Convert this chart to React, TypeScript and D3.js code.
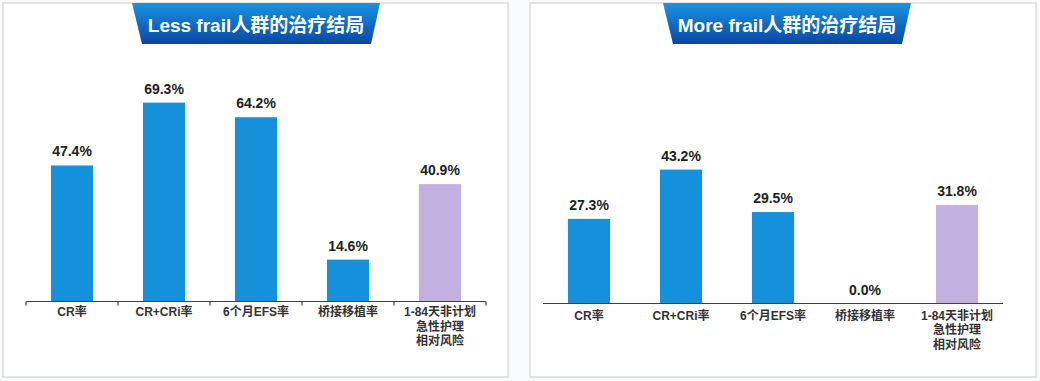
import React from "react";
import * as d3 from "d3";

const categories = ["CR率", "CR+CRi率", "6个月EFS率", "桥接移植率", "1-84天非计划\n急性护理\n相对风险"];
const lessFrailValues = [47.4, 69.3, 64.2, 14.6, 40.9];
const moreFrailValues = [27.3, 43.2, 29.5, 0.0, 31.8];
const barColors = ["#1591dc", "#1591dc", "#1591dc", "#1591dc", "#c3b1e1"];
const titles = ["Less frail人群的治疗结局", "More frail人群的治疗结局"];

const FONT = "'Liberation Sans', Arial, 'Noto Sans CJK SC', sans-serif";

type PanelProps = {
  title: string;
  values: number[];
  box: [number, number, number, number];
  banner: [number, number, number, number, number];
  x0: number;
  x1: number;
  baseline: number;
  pxPerPct: number;
  ticks: boolean;
  labelY: number;
  gid: string;
};

function Panel(p: PanelProps) {
  const x = d3.scaleBand<string>().domain(categories).range([p.x0, p.x1]).paddingInner(0.543).paddingOuter(0.2715);
  const y = d3.scaleLinear().domain([0, 100]).range([p.baseline, p.baseline - 100 * p.pxPerPct]);
  const [bx, by, bw, bh] = p.box;
  const [tl, tr, bl, br, bb] = p.banner;
  const step = x.step();
  const boundaries = d3.range(categories.length + 1).map((i) => p.x0 + i * step);
  return (
    <g>
      <rect x={bx + 1} y={by + 1} width={bw} height={bh} fill="#eceef1" />
      <rect x={bx} y={by} width={bw} height={bh} fill="#ffffff" stroke="#dcdcdc" strokeWidth={1.5} />
      <defs>
        <linearGradient id={p.gid} x1="0" y1="0" x2="0" y2="1">
          <stop offset="0" stopColor="#1a93e2" />
          <stop offset="1" stopColor="#0a47a3" />
        </linearGradient>
      </defs>
      <path d={`M${tl},${by}L${tr},${by}L${br},${bb}L${bl},${bb}Z`} fill={`url(#${p.gid})`} />
      <text x={(tl + tr) / 2} y={by + 29} textAnchor="middle" fill="#ffffff" fontWeight="bold" fontSize={19} fontFamily={FONT}>
        {p.title}
      </text>
      {categories.map((c, i) => (
        <rect key={c} x={x(c)} y={y(p.values[i])} width={x.bandwidth()} height={p.baseline - y(p.values[i])} fill={barColors[i]} />
      ))}
      {categories.map((c, i) => (
        <text key={"v" + c} x={(x(c) as number) + x.bandwidth() / 2} y={y(p.values[i]) - 9} textAnchor="middle" fontWeight="bold" fontSize={14} fill="#222" fontFamily={FONT}>
          {p.values[i].toFixed(1) + "%"}
        </text>
      ))}
      <line x1={p.x0} x2={p.x1} y1={p.baseline} y2={p.baseline} stroke="#404040" strokeWidth={1.2} />
      {p.ticks && boundaries.map((bxx, i) => (
        <line key={"t" + i} x1={bxx} x2={bxx} y1={p.baseline} y2={p.baseline + 4} stroke="#404040" strokeWidth={1.2} />
      ))}
      {categories.map((c) => (
        <text key={"l" + c} x={(x(c) as number) + x.bandwidth() / 2} y={p.labelY} textAnchor="middle" fontWeight="bold" fontSize={12} fill="#333" fontFamily={FONT}>
          {c.split("\n").map((line, j) => (
            <tspan key={j} x={(x(c) as number) + x.bandwidth() / 2} dy={j === 0 ? 0 : 14.5}>{line}</tspan>
          ))}
        </text>
      ))}
    </g>
  );
}

export default function App() {
  return (
    <svg width={1040} height={381} style={{ position: "absolute", left: 0, top: 0, background: "#ffffff" }}>
      <rect x={0} y={0} width={1040} height={381} fill="#fafbfc" />
      <Panel title={titles[0]} values={lessFrailValues} box={[3, 3, 505, 374]} banner={[132, 380, 142, 371, 44]} x0={26} x1={486} baseline={301.5} pxPerPct={2.87} ticks={true} labelY={316} gid="g1" />
      <Panel title={titles[1]} values={moreFrailValues} box={[530, 3, 506, 374]} banner={[663, 911, 673, 902, 44]} x0={543} x1={1003} baseline={303.5} pxPerPct={3.1} ticks={false} labelY={319.5} gid="g2" />
    </svg>
  );
}
